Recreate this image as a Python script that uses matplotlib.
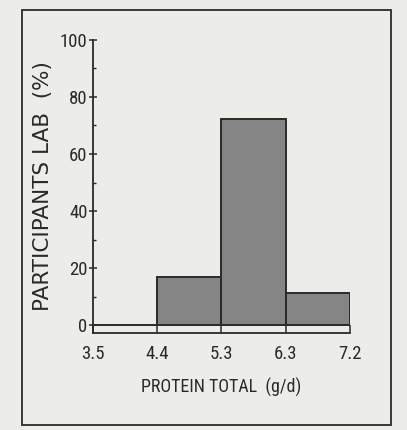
import matplotlib
matplotlib.use("Agg")
import matplotlib.pyplot as plt
import matplotlib.patches as mpatches
from matplotlib.ticker import MultipleLocator

# ---------- data ----------
bin_edges = ["3.5", "4.4", "5.3", "6.3", "7.2"]
percent   = [0.0, 16.7, 72.2, 11.1]   # participants per protein bin (%)
y_ticks   = [0, 20, 40, 60, 80, 100]

PAPER = "#ecece9"
BAR   = "#858585"
INK   = "#2a2a2a"
NARROW = ["Roboto Condensed", "Liberation Sans Narrow", "Roboto", "DejaVu Sans"]
WIDE   = ["DejaVu Sans"]

fig = plt.figure(figsize=(4.07, 4.30), dpi=100, facecolor=PAPER)

# outer frame drawn round the figure on the page
fig.patches.append(mpatches.Rectangle((0.055, 0.012), 0.905, 0.965, transform=fig.transFigure,
                                      fill=False, edgecolor=INK, linewidth=1.3))

ax = fig.add_axes([0.2285, 0.2256, 0.631, 0.6814])
ax.set_facecolor("none")

x = list(range(len(percent)))
ax.bar(x, percent, width=1.0, align="edge", color=BAR, edgecolor=INK, linewidth=1.4)

ax.set_xlim(0, len(percent))
ax.set_ylim(-2.8, 100)
ax.set_xticks(range(len(bin_edges)))
ax.set_xticklabels(bin_edges, family=NARROW, fontsize=13.5)
ax.set_yticks(y_ticks)
ax.set_yticklabels([str(v) for v in y_ticks], family=NARROW, fontsize=13.5)
ax.yaxis.set_minor_locator(MultipleLocator(10))

ax.tick_params(axis="x", direction="in", length=6, width=1.1, pad=9, colors=INK)
ax.tick_params(axis="y", which="major", direction="inout", length=6, width=1.1, pad=1, colors=INK)
ax.tick_params(axis="y", which="minor", direction="in", length=2.5, width=1.0, colors=INK)

for s in ["top", "right"]:
    ax.spines[s].set_visible(False)
for s in ["left", "bottom"]:
    ax.spines[s].set_linewidth(1.3)
    ax.spines[s].set_color(INK)

ax.set_xlabel("PROTEIN TOTAL  (g/d)", family=NARROW, fontsize=13, color=INK, labelpad=10)
ax.set_ylabel("PARTICIPANTS LAB  (%)", family=WIDE, fontsize=15.5, color=INK, labelpad=5)

fig.savefig("out.png", dpi=100, facecolor=PAPER)
